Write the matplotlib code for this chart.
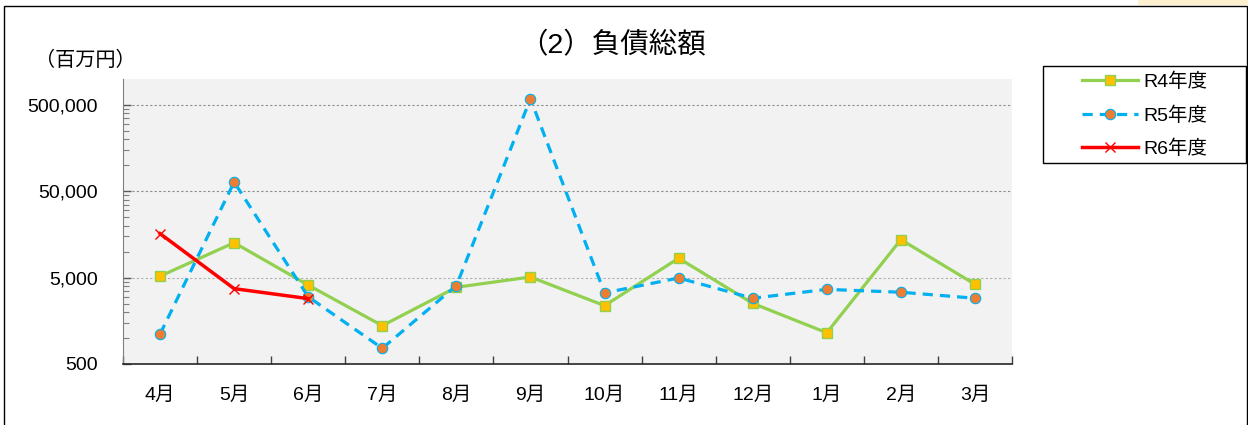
import matplotlib
matplotlib.use("Agg")
import matplotlib.pyplot as plt
from matplotlib.patches import Rectangle
from matplotlib.ticker import FixedLocator, NullFormatter, FuncFormatter
import numpy as np

plt.rcParams['font.family'] = ['Liberation Sans', 'Noto Sans CJK JP', 'DejaVu Sans']

months = ["4月", "5月", "6月", "7月", "8月", "9月", "10月", "11月", "12月", "1月", "2月", "3月"]
r4 = [5200, 12700, 4100, 1390, 3870, 5090, 2370, 8400, 2520, 1150, 13800, 4190]
r5 = [1110, 64000, 3000, 760, 4040, 590000, 3330, 4960, 2890, 3660, 3390, 2890]
r6 = [16200, 3730, 2860]
series_labels = ["R4年度", "R5年度", "R6年度"]
yticks = [500, 5000, 50000, 500000]

W, H = 1248, 425
fig = plt.figure(figsize=(W / 100, H / 100), dpi=100)
ax = fig.add_axes([123 / W, 1 - 364 / H, (1012 - 123) / W, (364 - 79) / H])
ax.set_facecolor('#f2f2f2')

x = np.arange(len(months))
l4, = ax.plot(x, r4, color='#92d050', lw=2.3, marker='s', ms=7.5,
              mfc='#ffc000', mec='#92d050', mew=1.0, label=series_labels[0], zorder=3)
l5, = ax.plot(x, r5, color='#00b0f0', lw=2.3, ls=(0, (3.2, 2.2)), marker='o', ms=7.5,
              mfc='#ed7d31', mec='#00b0f0', mew=0.8, label=series_labels[1], zorder=4)
l6, = ax.plot(x[:len(r6)], r6, color='#ff0000', lw=2.5, marker='x', ms=7.5,
              mec='#ff0000', mew=1.0, label=series_labels[2], zorder=5)

ax.set_yscale('log')
ax.set_ylim(500, 1_000_000)
ax.set_xlim(-0.5, len(months) - 0.5)

ax.yaxis.set_major_locator(FixedLocator(yticks))
ax.yaxis.set_major_formatter(FuncFormatter(lambda v, p: f"{int(round(v)):,}"))
minor = []
for base in [500, 5000, 50000, 500000]:
    for k in range(2, 10):
        v = base * k
        if v < 1_000_000:
            minor.append(v)
ax.yaxis.set_minor_locator(FixedLocator(minor))
ax.yaxis.set_minor_formatter(NullFormatter())
ax.tick_params(axis='y', which='major', direction='in', length=6, width=1,
               color='#595959', labelsize=14, pad=18)
ax.tick_params(axis='y', which='minor', direction='in', length=4, width=0.8, color='#7f7f7f')

ax.xaxis.set_major_locator(FixedLocator(np.arange(-0.5, len(months), 1.0)))
ax.xaxis.set_major_formatter(NullFormatter())
ax.xaxis.set_minor_locator(FixedLocator(x))
ax.set_xticks(x, months, minor=True)
ax.tick_params(axis='x', which='major', direction='in', length=6, width=1, color='#404040')
ax.tick_params(axis='x', which='minor', length=0, labelsize=14, pad=16)

for v, c in zip(yticks[1:], ['#b0b0b0', '#8c8c8c', '#8c8c8c']):
    ax.axhline(v, color=c, lw=0.8, ls=(0, (2, 2)), zorder=1)

for s in ['top', 'right']:
    ax.spines[s].set_visible(False)
ax.spines['left'].set_color('#7f7f7f')
ax.spines['bottom'].set_color('#262626')
ax.spines['bottom'].set_linewidth(1.2)

fig.text(613 / W, 1 - 46 / H, "（2）負債総額", ha='center', va='center', fontsize=20.5)
fig.text(85 / W, 1 - 60 / H, "（百万円）", ha='center', va='center', fontsize=14.5)

# legend
fig.patches.append(Rectangle((1043 / W, 1 - 163 / H), (1246 - 1043) / W, (163 - 66) / H,
                             transform=fig.transFigure, fill=False, ec='black', lw=1))
leg = fig.legend(handles=[l4, l5, l6], loc='upper left',
                 bbox_to_anchor=(1066 / W, 1 - 57 / H), frameon=False,
                 fontsize=14, handlelength=2.9, labelspacing=0.78,
                 handletextpad=0.3, borderpad=0.3)

# outer border
fig.patches.append(Rectangle((4 / W, -0.01), (1247 - 4) / W, 1 - 6 / H + 0.01,
                             transform=fig.transFigure, fill=False, ec='black', lw=1))
fig.patches.append(Rectangle((1138 / W, 1 - 5 / H), (W - 1138) / W, 5 / H,
                             transform=fig.transFigure, fill=True, fc='#fdf0cf', ec='none'))

fig.savefig('out.png', dpi=100)
